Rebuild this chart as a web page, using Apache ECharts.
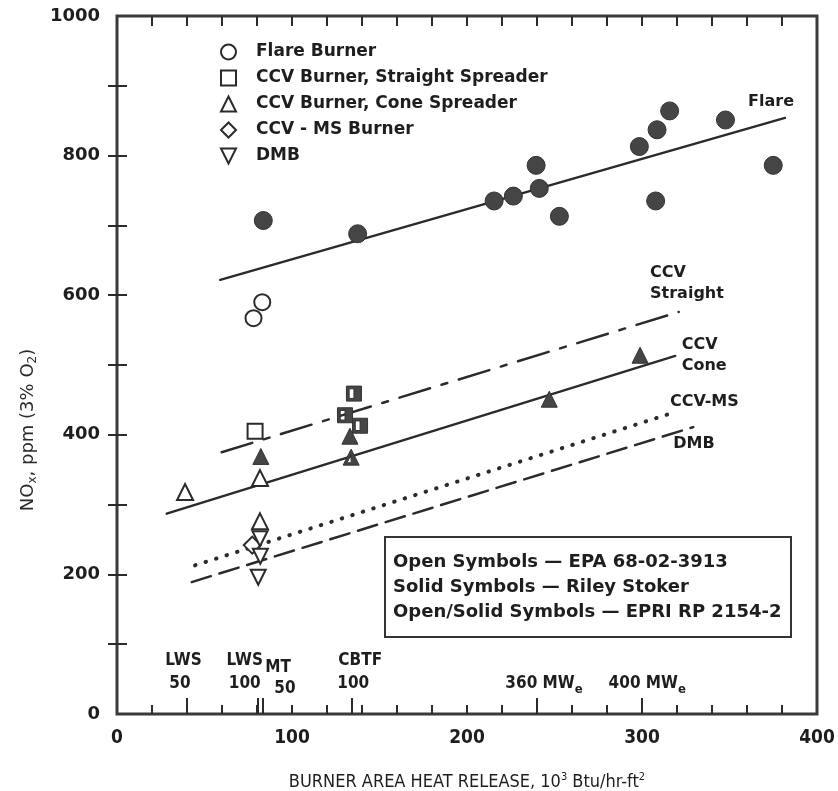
<!DOCTYPE html>
<html>
<head>
<meta charset="utf-8">
<title>NOx vs burner area heat release</title>
<script src="https://cdn.jsdelivr.net/npm/echarts@6/dist/echarts.min.js"></script>
<style>
  html, body { margin: 0; padding: 0; background: #fff; }
  #chart { width: 838px; height: 791px; }
</style>
</head>
<body>
<div id="chart"></div>
<script>
// axis ticks
var xTickLabels = [0, 100, 200, 300, 400];
var xMinorTicks = [20, 40, 60, 80, 100, 120, 140, 160, 180, 200, 220, 240, 260, 280, 300, 320, 340, 360, 380];
var yTickLabels = [0, 200, 400, 600, 800, 1000];
var yMinorTicks = [100, 200, 300, 400, 500, 600, 700, 800, 900];

// test facilities marked on the x axis
var facilityTicks = [40, 80.5, 83.5, 134, 240, 300];
var facilityText = ['LWS', '50', 'LWS', '100', 'MT', '50', 'CBTF', '100', '360 MW{e|e}', '400 MW{e|e}'];
var facilityX = [38, 36, 73, 73, 92, 96, 139, 135, 244, 303];
var facilityY = [77, 44, 77, 44, 67, 37, 77, 44, 44, 44];

// measured points [heat release, NOx]
var flareOpen = [[83, 590], [78, 567]];
var flareSolid = [[83.6, 707], [137.5, 688], [215.5, 735], [226.5, 742], [239.5, 786], [241.3, 753],
  [252.8, 713], [298.5, 813], [308.6, 837], [315.8, 864], [307.8, 735], [347.7, 851], [375, 786]];
var straightOpen = [[78.9, 405]];
var straightHalf = [[135.4, 459], [130.3, 428], [138.9, 413]];
var coneOpen = [[38.9, 318], [81.7, 338], [81.7, 276]];
var coneSolid = [[82.2, 369], [133.1, 398], [247, 451], [298.9, 514]];
var coneHalf = [[133.8, 368]];
var msOpen = [[77.3, 242]];
var dmbOpen = [[81.7, 251], [81.9, 226], [80.7, 196]];

// fitted lines, two end points each
var flareFit = [[59, 622], [381.7, 854]];
var straightFit = [[59.8, 375], [321, 576]];
var coneFit = [[28.4, 287], [319, 513]];
var msFit = [[44.6, 213], [317, 431]];
var dmbFit = [[42.7, 189], [329.3, 411]];

// line names at the right end of each fit
var fitLabelText = ['Flare', 'CCV\nStraight', 'CCV\nCone', 'CCV-MS', 'DMB'];
var fitLabelX = [360.6, 304.6, 322.7, 316, 317.9];
var fitLabelY = [877, 617.6, 513.3, 447, 386.4];

var boxLines = ['Open Symbols \u2014 EPA 68-02-3913', 'Solid Symbols \u2014 Riley Stoker', 'Open/Solid Symbols \u2014 EPRI RP 2154-2'];

var FONT = '"DejaVu Sans", sans-serif';
var FONT_C = '"DejaVu Sans Condensed", "DejaVu Sans", sans-serif';
var INK = '#2b2b2b';
var TEXT = '#1e1e1e';
var FILL = '#454545';

var HALF_SQUARE = 'path://M0,0H10V10H0Z M1.8,1.8V8.2H5V1.8Z';
var HALF_TRI = 'path://M5,0L10,10H0Z M5,3.4L2.45,8.5H5Z';
var DOWN_TRI = 'path://M0,0H10L5,10Z';

function openStyle() {
  return { color: '#fff', borderColor: INK, borderWidth: 2, opacity: 1 };
}
function solidStyle() {
  return { color: FILL, borderColor: '#333', borderWidth: 1, opacity: 1 };
}
function pts(name, data, symbol, size, style) {
  return {
    name: name, type: 'scatter', data: data, symbol: symbol, symbolSize: size,
    itemStyle: style, z: 5, silent: true, animation: false
  };
}
function fit(data, type, width) {
  return {
    type: 'line', data: data, showSymbol: false, symbol: 'none', silent: true, animation: false, z: 2,
    lineStyle: { color: INK, width: width || 2.5, type: type, cap: 'round' }
  };
}
function textSeries(xs, ys, texts, label) {
  var d = [];
  for (var i = 0; i < texts.length; i++) {
    d.push({ value: [xs[i], ys[i]], name: texts[i] });
  }
  return {
    type: 'scatter', data: d, symbolSize: 0, silent: true, animation: false, z: 6,
    itemStyle: { opacity: 1 },
    label: label
  };
}

var chart = echarts.init(document.getElementById('chart'), null, { renderer: 'canvas' });

var option = {
  backgroundColor: '#fff',
  animation: false,
  grid: {
    left: 117, right: 21, top: 16, bottom: 77,
    show: true, borderColor: '#3a3a3a', borderWidth: 3,
    outerBoundsMode: 'none'
  },
  title: {
    text: boxLines.join('\n'),
    left: 385, top: 537,
    padding: [13, 10, 12, 8],
    borderColor: '#333', borderWidth: 2, backgroundColor: '#fff',
    textStyle: { fontFamily: FONT, fontSize: 18, fontWeight: 'bold', color: TEXT, lineHeight: 25 }
  },
  legend: {
    orient: 'vertical', left: 215, top: 37,
    itemWidth: 15, itemHeight: 15, itemGap: 6,
    selectedMode: false,
    textStyle: { fontFamily: FONT, fontSize: 17, fontWeight: 'bold', color: TEXT, lineHeight: 20, padding: [0, 0, 0, 15] },
    data: [
      { name: 'Flare Burner', icon: 'circle', itemStyle: openStyle() },
      { name: 'CCV Burner, Straight Spreader', icon: 'rect', itemStyle: openStyle() },
      { name: 'CCV Burner, Cone Spreader', icon: 'triangle', itemStyle: openStyle() },
      { name: 'CCV - MS Burner', icon: 'diamond', itemStyle: openStyle() },
      { name: 'DMB', icon: DOWN_TRI, itemStyle: openStyle() }
    ]
  },
  xAxis: [
    {
      type: 'value', position: 'bottom', min: 0, max: 400,
      name: 'BURNER AREA HEAT RELEASE, 10{sup|3} Btu/hr-ft{sup|2}',
      nameLocation: 'middle', nameGap: 58,
      nameTextStyle: {
        fontFamily: FONT_C, fontSize: 18, color: TEXT,
        rich: { sup: { fontFamily: FONT_C, fontSize: 11, color: TEXT, padding: [0, 0, 10, 0] } }
      },
      axisLine: { show: false },
      splitLine: { show: false },
      axisTick: { show: true, inside: true, length: 9, customValues: xMinorTicks, lineStyle: { color: INK, width: 2 } },
      axisLabel: { show: true, customValues: xTickLabels, margin: 15, fontFamily: FONT_C, fontSize: 19, fontWeight: 'bold', color: TEXT }
    },
    {
      type: 'value', position: 'bottom', min: 0, max: 400,
      axisLine: { show: false },
      splitLine: { show: false },
      axisTick: { show: true, inside: true, length: 16, customValues: facilityTicks, lineStyle: { color: INK, width: 2 } },
      axisLabel: { show: false }
    },
    {
      type: 'value', position: 'top', min: 0, max: 400,
      axisLine: { show: false },
      splitLine: { show: false },
      axisTick: { show: true, inside: true, length: 10, customValues: xMinorTicks, lineStyle: { color: INK, width: 2 } },
      axisLabel: { show: false }
    }
  ],
  yAxis: [
    {
      type: 'value', position: 'left', min: 0, max: 1000,
      name: 'NO{s|x}, ppm (3% O{s|2})',
      nameLocation: 'middle', nameGap: 76,
      nameTextStyle: {
        fontFamily: FONT, fontSize: 18, color: '#2a2a2a',
        padding: [0, 130, 0, 0],
        rich: { s: { fontFamily: FONT, fontSize: 12, color: '#2a2a2a', padding: [10, 0, 0, 0] } }
      },
      axisLine: { show: false },
      splitLine: { show: false },
      axisTick: { show: true, inside: true, length: 10, customValues: yMinorTicks, lineStyle: { color: INK, width: 2 } },
      axisLabel: {
        show: true, customValues: yTickLabels, margin: 17,
        fontFamily: FONT, fontSize: 18, fontWeight: 'bold', color: TEXT,
        formatter: function (v) { return String(v); }
      }
    },
    {
      type: 'value', position: 'right', min: 0, max: 1000,
      axisLine: { show: false },
      splitLine: { show: false },
      axisTick: { show: true, inside: true, length: 9, customValues: yMinorTicks, lineStyle: { color: INK, width: 2 } },
      axisLabel: { show: false }
    }
  ],
  series: [
    fit(flareFit, 'solid', 2.5),
    fit(straightFit, [32, 12, 6, 12], 2.5),
    fit(coneFit, 'solid', 2.5),
    fit(msFit, [0.5, 10.5], 4),
    fit(dmbFit, [20, 9], 2.5),

    pts('Flare Burner', flareSolid, 'circle', 18, solidStyle()),
    pts('Flare Burner', flareOpen, 'circle', 16, openStyle()),
    pts('CCV Burner, Straight Spreader', straightOpen, 'rect', 15, openStyle()),
    pts('CCV Burner, Straight Spreader', straightHalf, HALF_SQUARE, 15, solidStyle()),
    pts('CCV Burner, Cone Spreader', coneOpen, 'triangle', 16, openStyle()),
    pts('CCV Burner, Cone Spreader', coneSolid, 'triangle', 16, solidStyle()),
    pts('CCV Burner, Cone Spreader', coneHalf, HALF_TRI, 16, solidStyle()),
    pts('CCV - MS Burner', msOpen, 'diamond', 17, openStyle()),
    pts('DMB', dmbOpen, DOWN_TRI, 15, openStyle()),

    textSeries(fitLabelX, fitLabelY, fitLabelText, {
      show: true, position: 'right', distance: 0, align: 'left', formatter: '{b}', opacity: 1,
      fontFamily: FONT, fontSize: 16, fontWeight: 'bold', color: TEXT, lineHeight: 21
    }),
    textSeries(facilityX, facilityY, facilityText, {
      show: true, position: 'inside', formatter: '{b}', opacity: 1,
      fontFamily: FONT_C, fontSize: 17, fontWeight: 'bold', color: TEXT,
      rich: { e: { fontFamily: FONT_C, fontSize: 13, fontWeight: 'bold', color: TEXT, padding: [12, 0, 0, 0] } }
    })
  ]
};

chart.setOption(option);
</script>
</body>
</html>
